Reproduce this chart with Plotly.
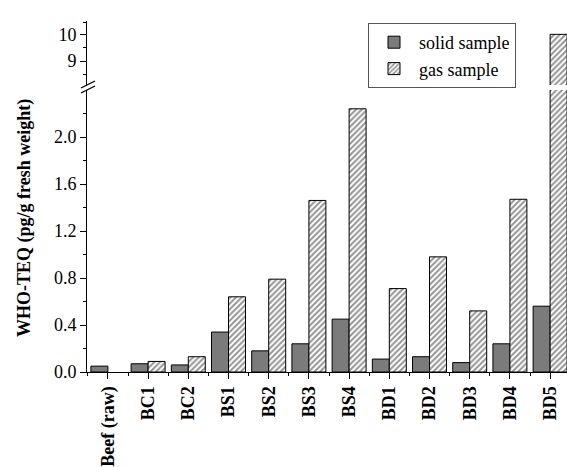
import plotly.graph_objects as go

categories = ["Beef (raw)", "BC1", "BC2", "BS1", "BS2", "BS3", "BS4",
              "BD1", "BD2", "BD3", "BD4", "BD5"]
solid_sample = [0.05, 0.07, 0.06, 0.34, 0.18, 0.24, 0.45, 0.11, 0.13, 0.08, 0.24, 0.56]
gas_sample = [None, 0.09, 0.13, 0.64, 0.79, 1.46, 2.24, 0.71, 0.98, 0.52, 1.47, 10.0]
lower_ticks = [0.0, 0.4, 0.8, 1.2, 1.6, 2.0]
upper_ticks = [9, 10]

FONT = "Liberation Serif, Times New Roman, serif"
xpos = list(range(len(categories)))

# plot area geometry (pixels)
W, H = 567, 467
L, R, T, B = 87, 0, 21, 95
PH = H - T - B
lower_top_px = 90
upper_bot_px = 85
lower_dom = [0, (372 - lower_top_px) / PH]
upper_dom = [(372 - upper_bot_px) / PH, 1]

solid_style = dict(color="#7b7b7b", line=dict(color="black", width=1))
gas_style = dict(color="white", line=dict(color="black", width=1),
                 pattern=dict(shape="/", fillmode="overlay", fgcolor="#2a2a2a",
                              bgcolor="white", size=4, solidity=0.5))

fig = go.Figure()
for yax, show in (("y", True), ("y2", False)):
    fig.add_trace(go.Bar(x=xpos, y=solid_sample, name="solid sample", marker=solid_style,
                         xaxis="x", yaxis=yax, showlegend=show, offsetgroup="s",
                         legendgroup="s"))
    fig.add_trace(go.Bar(x=xpos, y=gas_sample, name="gas sample", marker=gas_style,
                         xaxis="x", yaxis=yax, showlegend=show, offsetgroup="g",
                         legendgroup="g"))

axis_common = dict(showline=True, linecolor="black", linewidth=1, ticks="outside",
                   ticklen=6, tickwidth=1, tickcolor="black", showgrid=False,
                   zeroline=False)

fig.update_layout(
    width=W, height=H,
    margin=dict(l=L, r=R, t=T, b=B, pad=0),
    paper_bgcolor="white", plot_bgcolor="white",
    font=dict(family=FONT, size=18, color="black"),
    barmode="group", bargap=0.155, bargroupgap=0,
    xaxis=dict(**axis_common, range=[-0.52, 11.42], tickmode="array",
               tickvals=xpos, ticktext=categories, tickangle=-90,
               tickfont=dict(family=FONT, size=18, color="black", weight="bold"),
               minor=dict(tickvals=[i + 0.5 for i in range(-1, 12)], ticklen=3,
                          tickcolor="black", ticks="outside")),
    yaxis=dict(**axis_common, domain=lower_dom, range=[0, 2.4], anchor="x",
               tickmode="array", tickvals=lower_ticks,
               ticktext=[f"{v:.1f}" for v in lower_ticks],
               tickfont=dict(family=FONT, size=18, color="black"),
               minor=dict(tickvals=[0.2, 0.6, 1.0, 1.4, 1.8, 2.2], ticklen=3,
                          tickcolor="black", ticks="outside")),
    yaxis2=dict(**axis_common, domain=upper_dom, range=[8.1, 10.5], anchor="x",
                tickmode="array", tickvals=upper_ticks,
                ticktext=[str(v) for v in upper_ticks],
                tickfont=dict(family=FONT, size=18, color="black"),
                minor=dict(tickvals=[8.5, 9.5, 10.45], ticklen=3,
                           tickcolor="black", ticks="outside")),
    legend=dict(x=(368 - L) / 480, y=(372 - 23) / PH, xanchor="left", yanchor="top",
                bordercolor="#555", borderwidth=1, bgcolor="white",
                font=dict(family=FONT, size=18, color="black"),
                itemwidth=40, tracegroupgap=0),
)

# y-axis title
fig.add_annotation(text="<b>WHO-TEQ (pg/g fresh weight)</b>", xref="paper", yref="paper",
                   x=(25 - L) / 480, y=(372 - 218) / PH, textangle=-90, showarrow=False,
                   font=dict(family=FONT, size=18, color="black"),
                   xanchor="center", yanchor="middle")

# axis break marks
def px(xp, yp):
    return (xp - L) / 480, (372 - yp) / PH

for dy in (0, 5):
    x0, y0 = px(81, 90 + dy - 2)
    x1, y1 = px(95, 83 + dy - 2)
    fig.add_shape(type="line", xref="paper", yref="paper", x0=x0, y0=y0, x1=x1, y1=y1,
                  line=dict(color="black", width=1.3))

fig.write_html("out.html")
